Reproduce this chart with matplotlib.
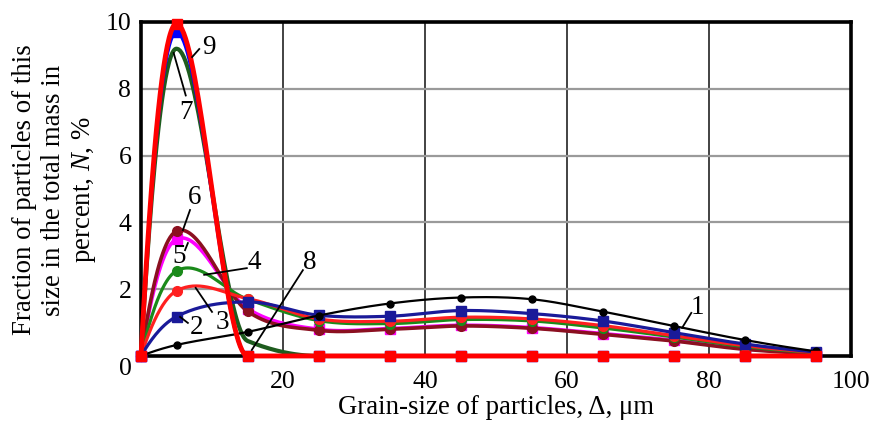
import numpy as np
import matplotlib
matplotlib.use('Agg')
import matplotlib.pyplot as plt

plt.rcParams['font.family'] = ['Liberation Serif', 'DejaVu Serif']
plt.rcParams['mathtext.fontset'] = 'custom'
plt.rcParams['mathtext.rm'] = 'Liberation Serif'
plt.rcParams['mathtext.it'] = 'Liberation Serif:italic'

# grain size, um (centres of the size classes)
grain = [0, 5, 15, 25, 35, 45, 55, 65, 75, 85, 95]

# fraction N, % for each curve 1..9
n1 = [0, 0.33, 0.72, 1.21, 1.57, 1.75, 1.70, 1.33, 0.90, 0.48, 0.14]
n2 = [0, 1.18, 1.62, 1.22, 1.19, 1.36, 1.27, 1.05, 0.70, 0.36, 0.12]
n3 = [0, 1.95, 1.72, 1.11, 1.04, 1.16, 1.11, 0.91, 0.61, 0.31, 0.11]
n4 = [0, 2.55, 1.70, 1.06, 0.97, 1.09, 1.05, 0.84, 0.57, 0.28, 0.10]
n5 = [0, 3.50, 1.42, 0.80, 0.82, 0.92, 0.85, 0.67, 0.47, 0.22, 0.09]
n6 = [0, 3.74, 1.34, 0.77, 0.80, 0.90, 0.83, 0.65, 0.45, 0.20, 0.08]
n7 = [0, 9.20, 0.45, 0, 0, 0, 0, 0, 0, 0, 0]
n8 = [0, 9.70, 0, 0, 0, 0, 0, 0, 0, 0, 0]
n9 = [0, 9.95, 0, 0, 0, 0, 0, 0, 0, 0, 0]

x_ticks = [20, 40, 60, 80, 100]
y_ticks = [2, 4, 6, 8, 10]


def end_slopes(x, y, m):
    d0 = (y[1] - y[0]) / (x[1] - x[0])
    dn = (y[-1] - y[-2]) / (x[-1] - x[-2])
    m[0] = 2 * d0 - m[1]
    m[-1] = 2 * dn - m[-2]
    return m


def slopes_cr(x, y):
    m = np.zeros_like(y)
    m[1:-1] = (y[2:] - y[:-2]) / (x[2:] - x[:-2])
    return end_slopes(x, y, m)


def slopes_mono(x, y):
    h = np.diff(x)
    d = np.diff(y) / h
    m = np.zeros_like(y)
    for k in range(1, len(x) - 1):
        if d[k - 1] * d[k] > 0:
            w1 = 2 * h[k] + h[k - 1]
            w2 = h[k] + 2 * h[k - 1]
            m[k] = (w1 + w2) / (w1 / d[k - 1] + w2 / d[k])
    return end_slopes(x, y, m)


def smooth(xv, yv, mono=False):
    x = np.array(xv, float)
    y = np.array(yv, float)
    m = slopes_mono(x, y) if mono else slopes_cr(x, y)
    xs, ys = [], []
    t = np.linspace(0, 1, 40)
    for i in range(len(x) - 1):
        h = x[i + 1] - x[i]
        h00 = 2 * t**3 - 3 * t**2 + 1
        h10 = t**3 - 2 * t**2 + t
        h01 = -2 * t**3 + 3 * t**2
        h11 = t**3 - t**2
        xs.append(x[i] + h * t)
        ys.append(h00 * y[i] + h10 * h * m[i] + h01 * y[i + 1] + h11 * h * m[i + 1])
    return np.concatenate(xs), np.maximum(np.concatenate(ys), 0)


fig = plt.figure(figsize=(8.71, 4.25), dpi=100)
ax = fig.add_axes([0.1619, 0.1624, 0.8152, 0.7859])

# (data, colour, marker, marker size, line width, zorder, monotone)
curves = [
    (n7, '#1e5c1e', None, 0, 3.0, 3, True),
    (n8, '#0000ff', 's', 7, 2.5, 4, True),
    (n6, '#8b1020', 'o', 7, 2.6, 5, False),
    (n5, '#ff00ff', 's', 7, 2.6, 4.5, False),
    (n4, '#1a8a1a', 'o', 7, 2.3, 6, False),
    (n3, '#ff2020', 'o', 7, 2.3, 7, False),
    (n2, '#1a1a99', 's', 7, 2.3, 8, False),
    (n1, 'black', 'o', 5, 1.6, 9, False),
    (n9, '#ff0000', 's', 7, 3.5, 10, True),
]

for data, col, mk, ms, lw, z, mono in curves:
    xs, ys = smooth(grain, data, mono)
    ax.plot(xs, ys, color=col, lw=lw, zorder=z, clip_on=False, solid_capstyle='round')
    if mk:
        ax.plot(grain, data, ls='none', marker=mk, ms=ms, color=col, zorder=z, clip_on=False)

# curve numbers: (label, text x, text y, line from, line to)
labels = [
    ('1', 78.4, 1.45, (77.5, 1.29), (76.2, 0.84)),
    ('2', 7.8, 0.85, (6.6, 0.99), (5.5, 1.17)),
    ('3', 11.5, 1.00, (10.0, 1.32), (7.7, 2.04)),
    ('4', 16.0, 2.80, (14.9, 2.63), (8.9, 2.43)),
    ('5', 5.4, 2.97, (6.2, 3.17), (6.6, 3.38)),
    ('6', 7.6, 4.75, (6.9, 4.37), (5.9, 3.77)),
    ('7', 6.3, 7.3, (6.3, 7.8), (4.6, 9.07)),
    ('8', 23.7, 2.80, (22.8, 2.57), (15.6, 0.18)),
    ('9', 9.5, 9.25, (8.2, 9.19), (7.2, 8.95)),
]
for txt, tx, ty, p0, p1 in labels:
    ax.plot([p0[0], p1[0]], [p0[1], p1[1]], color='black', lw=1.3, zorder=12)
    ax.text(tx, ty, txt, fontsize=19.5, ha='center', va='center', zorder=12)

ax.set_xlim(0, 100)
ax.set_ylim(0, 10)
ax.set_xticks(x_ticks)
ax.set_yticks(y_ticks)
ax.tick_params(length=0, labelsize=18.5)
ax.tick_params(axis='x', pad=11)
ax.tick_params(axis='y', pad=7)
ax.text(-0.0225, -0.039, '0', transform=ax.transAxes, fontsize=18.5, ha='center', va='center')

ax.grid(axis='x', color='#222222', lw=1.2, zorder=0)
ax.grid(axis='y', color='#9a9a9a', lw=1.6, zorder=0)
ax.set_axisbelow(True)
for s in ax.spines.values():
    s.set_linewidth(2.6)
    s.set_color('black')

fig.text(55 / 871, 0.553, 'Fraction of particles of this\nsize in the total mass in\npercent, $N$, %',
         rotation=90, ha='center', va='center', multialignment='center', fontsize=19.3, linespacing=1.2)
fig.text(0.569, 0.04, 'Grain-size of particles, Δ, μm', ha='center', va='center', fontsize=19.3)

plt.savefig('out.png', dpi=100)
